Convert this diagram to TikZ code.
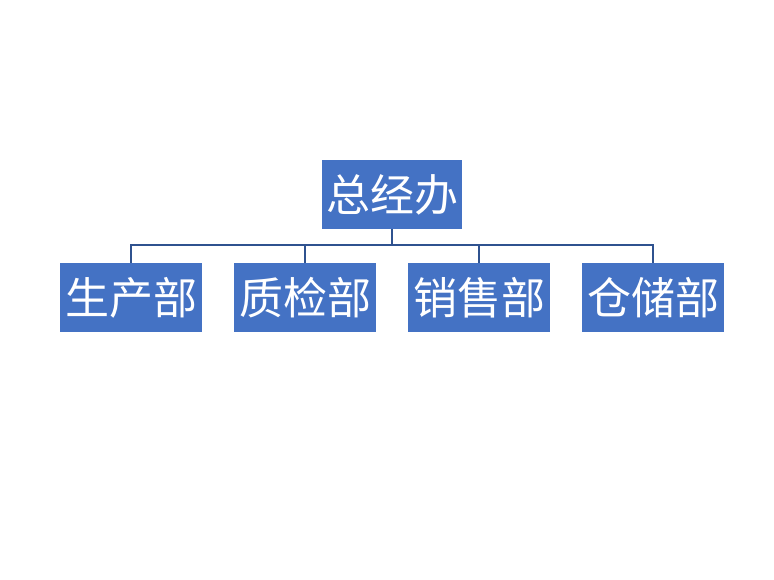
\documentclass[tikz,border=0pt]{standalone}
\usepackage{fontspec}
\newfontfamily\cjk{Noto Sans CJK SC}
\definecolor{boxblue}{HTML}{4472C4}
\definecolor{lineblue}{HTML}{2F528F}
\begin{document}
\begin{tikzpicture}[x=1pt,y=-1pt,
  orgbox/.style={fill=boxblue, draw=none, minimum height=69pt, inner sep=0pt,
    font=\cjk\fontsize{44}{44}\selectfont, text=white},
  conn/.style={draw=lineblue, line width=1.8pt}]
\useasboundingbox (0,0) rectangle (774,580);
\fill[white] (0,0) rectangle (774,580);
\node[orgbox, minimum width=140pt] (top) at (392,194.5) {总经办};
\node[orgbox, minimum width=142pt] (b1) at (131,297.5) {生产部};
\node[orgbox, minimum width=142pt] (b2) at (305,297.5) {质检部};
\node[orgbox, minimum width=142pt] (b3) at (479,297.5) {销售部};
\node[orgbox, minimum width=142pt] (b4) at (653,297.5) {仓储部};
\coordinate (h) at (392,245);
\draw[conn] (top.south) -- (h);
\draw[conn] (b1.north) -- (b1.north |- h) -- (b4.north |- h) -- (b4.north);
\draw[conn] (b2.north) -- (b2.north |- h);
\draw[conn] (b3.north) -- (b3.north |- h);
\end{tikzpicture}
\end{document}
